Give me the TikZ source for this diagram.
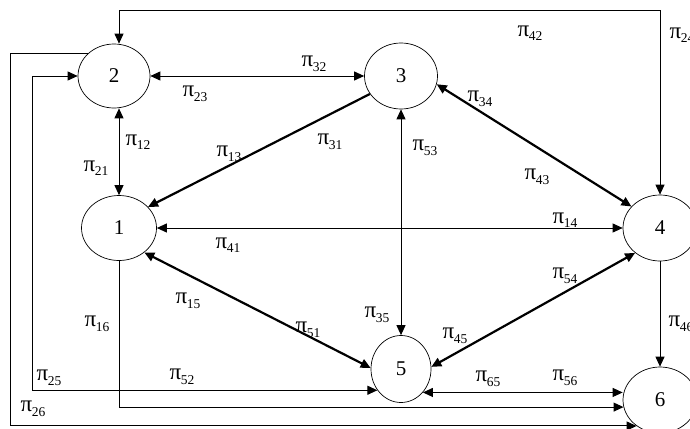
\documentclass[tikz,border=0pt]{standalone}
\usepackage{fontspec}
\setmainfont{Liberation Serif}
\usetikzlibrary{arrows.meta,shapes.geometric}

% transition-rate label: pi with a lowered index
\newcommand\pisub[1]{{\fontsize{23}{23}\selectfont π}\kern-0.5pt\raisebox{-4.5pt}{\fontsize{13.5}{13.5}\selectfont #1}}

\begin{document}
\begin{tikzpicture}[x=1pt,y=-1pt,
  state/.style={draw, line width=0.7pt, ellipse, inner sep=0pt,
                font=\fontsize{21}{21}\selectfont},
  lab/.style={inner sep=0pt, font=\fontsize{21}{21}\selectfont},
  tip/.style={-{Triangle[length=10pt,width=9pt]}},
  both/.style={{Triangle[length=10pt,width=9pt]}-{Triangle[length=10pt,width=9pt]}},
  thin/.style={line width=1pt},
  heavy/.style={line width=2.2pt}]

\useasboundingbox (0,0) rectangle (690,428);
\clip (0,0) rectangle (690,428);

% states
\node[state, minimum width=72pt, minimum height=64pt] (n2) at (114,76)  {2};
\node[state, minimum width=73pt, minimum height=66pt] (n3) at (401,76)  {3};
\node[state, minimum width=75pt, minimum height=65pt] (n1) at (119,228) {1};
\node[state, minimum width=74pt, minimum height=66pt] (n4) at (660,228) {4};
\node[state, minimum width=60pt, minimum height=67pt] (n5) at (401,369) {5};
\node[state, minimum width=74pt, minimum height=66pt] (n6) at (660,400) {6};

% bend points of the routed connectors
\coordinate (ktl) at (119,11);
\coordinate (ktr) at (660,11);
\coordinate (k25) at (32,0);
\coordinate (k26) at (10,0);

% straight connectors
\draw[thin,both] (n2.east) -- (n3.west);
\draw[thin,both] (n1.north |- n2.south) -- (n1.north);
\draw[thin,both] (n1.east) -- (n4.west);
\draw[thin,both] (n3.south) -- (n5.north);
\draw[thin,tip]  (n4.south) -- (n6.north);
\draw[thin,both] (n5.313) -- (n5.313 -| n6.west);

% heavy diagonals
\draw[heavy,tip]  (n3.210) -- (n1.36);
\draw[heavy,both] (n3.347) -- (n4.143);
\draw[heavy,both] (n1.316) -- (n5.178);
\draw[heavy,both] (n5.4)   -- (n4.225);

% routed connectors
\draw[thin,both] (ktl |- n2.north) |- (ktr) -- (n4.north);
\draw[thin,both] (n2.west) -| (k25 |- n5.222) -- (n5.222);
\draw[thin,tip]  (n2.140) -| (k26 |- n6.228) -- (n6.228);
\draw[thin,tip]  (n1.south) |- (n6.191);

% labels
\node[lab] (l42) at (530,33)  {\pisub{42}};
\node[lab] (l24) at (682,35)  {\pisub{24}};
\node[lab] (l32) at (314,64)  {\pisub{32}};
\node[lab] (l23) at (195,94)  {\pisub{23}};
\node[lab] (l12) at (138,142) {\pisub{12}};
\node[lab] (l21) at (96,168)  {\pisub{21}};
\node[lab] (l13) at (229,154) {\pisub{13}};
\node[lab] (l31) at (330,142) {\pisub{31}};
\node[lab] (l53) at (425,148) {\pisub{53}};
\node[lab] (l34) at (480,99)  {\pisub{34}};
\node[lab] (l43) at (537,177) {\pisub{43}};
\node[lab] (l14) at (565,220) {\pisub{14}};
\node[lab] (l41) at (228,245) {\pisub{41}};
\node[lab] (l54) at (565,276) {\pisub{54}};
\node[lab] (l15) at (188,301) {\pisub{15}};
\node[lab] (l16) at (97,324)  {\pisub{16}};
\node[lab] (l51) at (308,330) {\pisub{51}};
\node[lab] (l35) at (377,315) {\pisub{35}};
\node[lab] (l45) at (455,336) {\pisub{45}};
\node[lab] (l46) at (681,324) {\pisub{46}};
\node[lab] (l25) at (49,378)  {\pisub{25}};
\node[lab] (l52) at (182,377) {\pisub{52}};
\node[lab] (l65) at (488,379) {\pisub{65}};
\node[lab] (l56) at (565,378) {\pisub{56}};
\node[lab] (l26) at (33,409)  {\pisub{26}};
\end{tikzpicture}
\end{document}
